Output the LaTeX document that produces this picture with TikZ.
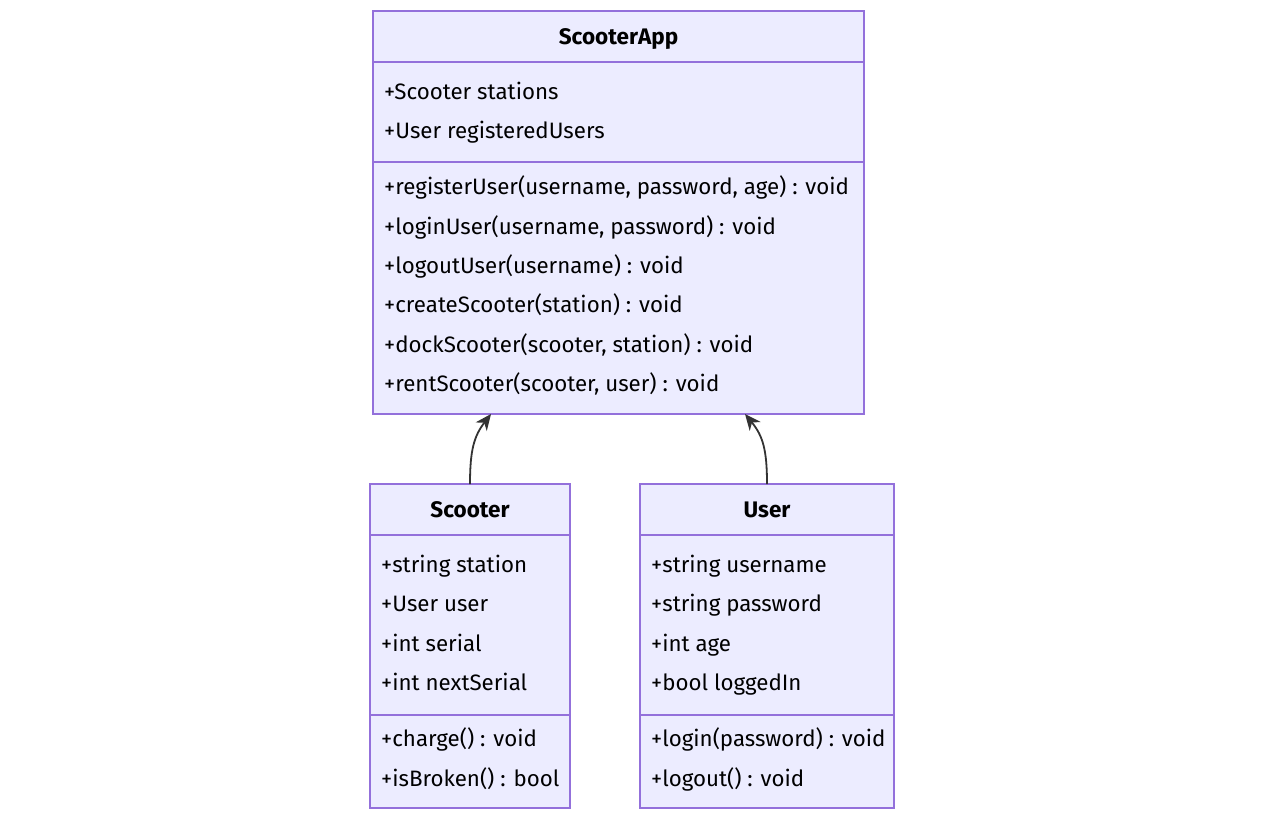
\documentclass[tikz,border=0pt]{standalone}
\usepackage{fontspec}
\setmainfont{Fira Sans}
\usetikzlibrary{arrows.meta}
\definecolor{cfill}{HTML}{ECECFF}
\definecolor{cstroke}{HTML}{9370DB}
\definecolor{carrow}{HTML}{333333}
\tikzset{
  classbox/.style={draw=cstroke, fill=cfill, line width=1.3pt, inner sep=0pt, outer sep=0pt},
  divider/.style={draw=cstroke, line width=1.3pt},
  member/.style={anchor=mid west, inner sep=0pt, font=\fontsize{22.3}{26}\selectfont, text=black, yshift=-2pt},
  title/.style={anchor=mid, inner sep=0pt, font=\fontsize{22.5}{26}\selectfont\bfseries, text=black, yshift=-2pt},
  rel/.style={draw=carrow, line width=1.8pt, -{Stealth[length=16pt,width=14pt,inset=5pt]}}
}
\begin{document}
\begin{tikzpicture}[x=1pt,y=-1pt]
\useasboundingbox (0,0) rectangle (1265,820);
% ScooterApp
\node[classbox, minimum width=491pt, minimum height=403pt] (app) at (618.5,212.5) {};
\draw[divider] (373,62) -- (864,62);
\draw[divider] (373,162) -- (864,162);
\node[title] (appt) at (618.5,40) {ScooterApp};
\node[member] (a1) at (384,95) {+Scooter stations};
\node[member] (a2) at (384,134) {+User registeredUsers};
\node[member] (m1) at (384,190) {+registerUser(username, password, age) : void};
\node[member] (m2) at (384,230) {+loginUser(username, password) : void};
\node[member] (m3) at (384,269) {+logoutUser(username) : void};
\node[member] (m4) at (384,308) {+createScooter(station) : void};
\node[member] (m5) at (384,348) {+dockScooter(scooter, station) : void};
\node[member] (m6) at (384,387) {+rentScooter(scooter, user) : void};
% Scooter
\node[classbox, minimum width=200pt, minimum height=324pt] (sc) at (470,646) {};
\draw[divider] (370,535) -- (570,535);
\draw[divider] (370,715) -- (570,715);
\node[title] (sct) at (470,513) {Scooter};
\node[member] (s1) at (381,568) {+string station};
\node[member] (s2) at (381,607) {+User user};
\node[member] (s3) at (381,647) {+int serial};
\node[member] (s4) at (381,686) {+int nextSerial};
\node[member] (s5) at (381,742) {+charge() : void};
\node[member] (s6) at (381,782) {+isBroken() : bool};
% User
\node[classbox, minimum width=254pt, minimum height=324pt] (us) at (767,646) {};
\draw[divider] (640,535) -- (894,535);
\draw[divider] (640,715) -- (894,715);
\node[title] (ust) at (767,513) {User};
\node[member] (u1) at (651,568) {+string username};
\node[member] (u2) at (651,607) {+string password};
\node[member] (u3) at (651,647) {+int age};
\node[member] (u4) at (651,686) {+bool loggedIn};
\node[member] (u5) at (651,742) {+login(password) : void};
\node[member] (u6) at (651,782) {+logout() : void};
% relations
\coordinate (e1) at ([xshift=-127.5pt]app.south);
\coordinate (e2) at ([xshift=126.5pt]app.south);
\draw[rel] (sc.north) .. controls (470,450) and (474,436) .. (e1);
\draw[rel] (us.north) .. controls (767,450) and (763,436) .. (e2);
\end{tikzpicture}
\end{document}
